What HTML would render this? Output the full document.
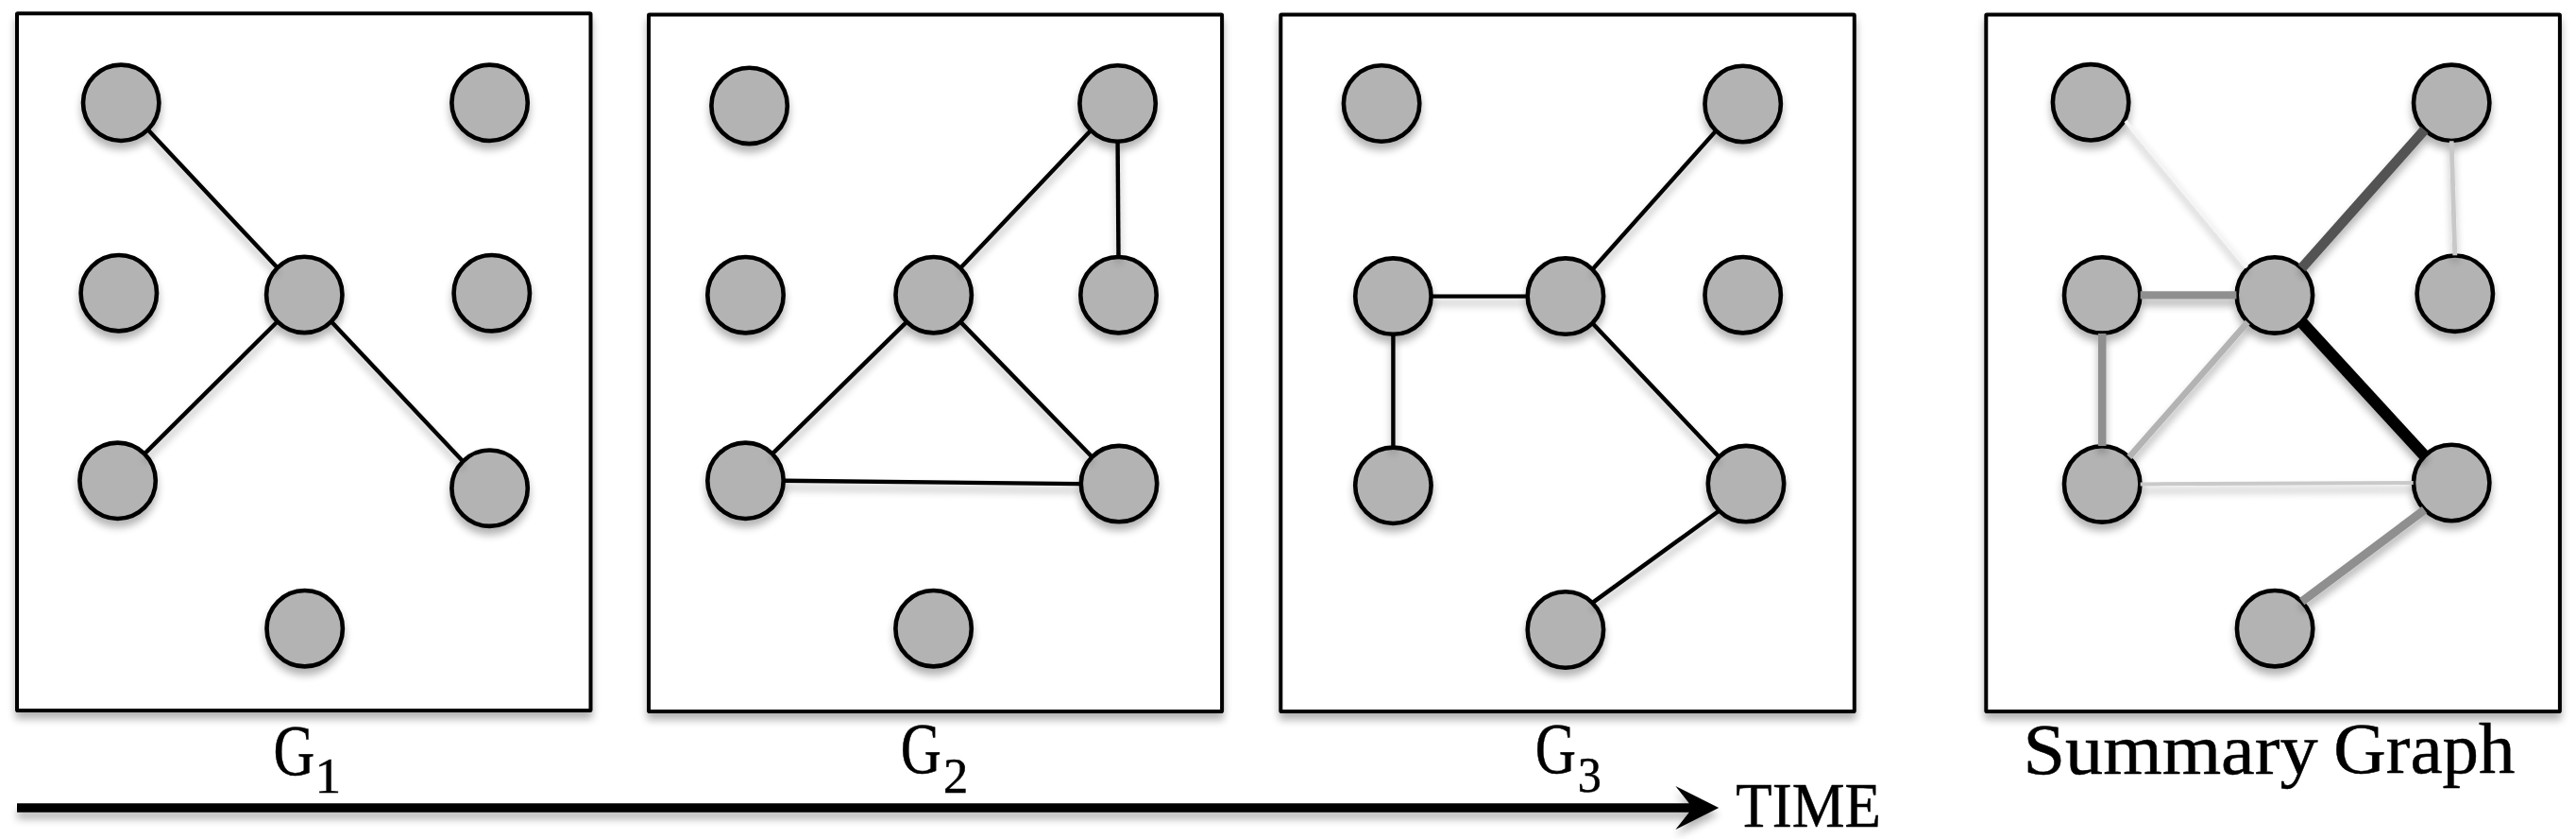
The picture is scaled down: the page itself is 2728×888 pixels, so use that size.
<!DOCTYPE html>
<html><head><meta charset="utf-8"><style>
html,body{margin:0;padding:0;background:#fff;}
svg{display:block;}
text{font-family:"Liberation Serif",serif;fill:#000;stroke:#000;stroke-width:0.5px;}
</style></head><body>
<svg width="2728" height="888" viewBox="0 0 2728 888">
<defs>
<filter id="sh" x="0" y="0" width="2728" height="888" filterUnits="userSpaceOnUse">
<feGaussianBlur in="SourceAlpha" stdDeviation="4"/>
<feOffset dx="0" dy="7" result="o"/>
<feComponentTransfer><feFuncA type="linear" slope="0.3"/></feComponentTransfer>
<feMerge><feMergeNode/><feMergeNode in="SourceGraphic"/></feMerge>
</filter>
</defs>
<rect width="2728" height="888" fill="#fff"/>
<rect x="18" y="14.2" width="607.5" height="737.8" rx="0.8" fill="#fff" stroke="#000" stroke-width="4" filter="url(#sh)"/>
<rect x="687" y="15.5" width="607.1" height="737.5" rx="0.8" fill="#fff" stroke="#000" stroke-width="4" filter="url(#sh)"/>
<rect x="1356.3" y="15.6" width="607.5" height="737.5" rx="0.8" fill="#fff" stroke="#000" stroke-width="4" filter="url(#sh)"/>
<rect x="2103.3" y="15.5" width="607.6" height="737.5" rx="0.8" fill="#fff" stroke="#000" stroke-width="4" filter="url(#sh)"/>
<circle cx="128.2" cy="108.8" r="40.2" fill="#b3b3b3" stroke="#000" stroke-width="4.6" filter="url(#sh)"/>
<circle cx="518.6" cy="108.8" r="40.2" fill="#b3b3b3" stroke="#000" stroke-width="4.6" filter="url(#sh)"/>
<circle cx="125.8" cy="310.2" r="40.2" fill="#b3b3b3" stroke="#000" stroke-width="4.6" filter="url(#sh)"/>
<circle cx="322.3" cy="311.9" r="40.2" fill="#b3b3b3" stroke="#000" stroke-width="4.6" filter="url(#sh)"/>
<circle cx="520.8" cy="310.2" r="40.2" fill="#b3b3b3" stroke="#000" stroke-width="4.6" filter="url(#sh)"/>
<circle cx="124.6" cy="508.8" r="40.2" fill="#b3b3b3" stroke="#000" stroke-width="4.6" filter="url(#sh)"/>
<circle cx="518.6" cy="516.7" r="40.2" fill="#b3b3b3" stroke="#000" stroke-width="4.6" filter="url(#sh)"/>
<circle cx="322.7" cy="665.2" r="40.2" fill="#b3b3b3" stroke="#000" stroke-width="4.6" filter="url(#sh)"/>
<line x1="156.84" y1="137.44" x2="293.66" y2="283.26" stroke="#000" stroke-width="4.4" filter="url(#sh)"/>
<line x1="293.66" y1="340.54" x2="153.24" y2="480.16" stroke="#000" stroke-width="4.4" filter="url(#sh)"/>
<line x1="350.94" y1="340.54" x2="489.96" y2="488.06" stroke="#000" stroke-width="4.4" filter="url(#sh)"/>
<circle cx="793.6" cy="111.9" r="40.2" fill="#b3b3b3" stroke="#000" stroke-width="4.6" filter="url(#sh)"/>
<circle cx="1183.6" cy="109.5" r="40.2" fill="#b3b3b3" stroke="#000" stroke-width="4.6" filter="url(#sh)"/>
<circle cx="789.5" cy="312.2" r="40.2" fill="#b3b3b3" stroke="#000" stroke-width="4.6" filter="url(#sh)"/>
<circle cx="988.7" cy="312.2" r="40.2" fill="#b3b3b3" stroke="#000" stroke-width="4.6" filter="url(#sh)"/>
<circle cx="1184.5" cy="312.2" r="40.2" fill="#b3b3b3" stroke="#000" stroke-width="4.6" filter="url(#sh)"/>
<circle cx="789.5" cy="508.8" r="40.2" fill="#b3b3b3" stroke="#000" stroke-width="4.6" filter="url(#sh)"/>
<circle cx="1185" cy="512.1" r="40.2" fill="#b3b3b3" stroke="#000" stroke-width="4.6" filter="url(#sh)"/>
<circle cx="988.6" cy="665.2" r="40.2" fill="#b3b3b3" stroke="#000" stroke-width="4.6" filter="url(#sh)"/>
<line x1="1154.96" y1="138.14" x2="1017.34" y2="283.56" stroke="#000" stroke-width="4.4" filter="url(#sh)"/>
<line x1="1183.6" y1="150" x2="1184.5" y2="271.7" stroke="#000" stroke-width="4.4" filter="url(#sh)"/>
<line x1="960.06" y1="340.84" x2="818.14" y2="480.16" stroke="#000" stroke-width="4.4" filter="url(#sh)"/>
<line x1="1017.34" y1="340.84" x2="1156.36" y2="483.46" stroke="#000" stroke-width="4.4" filter="url(#sh)"/>
<line x1="830" y1="508.8" x2="1144.5" y2="512.1" stroke="#000" stroke-width="4.4" filter="url(#sh)"/>
<circle cx="1463.1" cy="109.5" r="40.2" fill="#b3b3b3" stroke="#000" stroke-width="4.6" filter="url(#sh)"/>
<circle cx="1845.7" cy="110" r="40.2" fill="#b3b3b3" stroke="#000" stroke-width="4.6" filter="url(#sh)"/>
<circle cx="1475.4" cy="313.6" r="40.2" fill="#b3b3b3" stroke="#000" stroke-width="4.6" filter="url(#sh)"/>
<circle cx="1657.9" cy="313.6" r="40.2" fill="#b3b3b3" stroke="#000" stroke-width="4.6" filter="url(#sh)"/>
<circle cx="1845.7" cy="312.2" r="40.2" fill="#b3b3b3" stroke="#000" stroke-width="4.6" filter="url(#sh)"/>
<circle cx="1475.4" cy="513.8" r="40.2" fill="#b3b3b3" stroke="#000" stroke-width="4.6" filter="url(#sh)"/>
<circle cx="1849" cy="512.1" r="40.2" fill="#b3b3b3" stroke="#000" stroke-width="4.6" filter="url(#sh)"/>
<circle cx="1657.9" cy="666.5" r="40.2" fill="#b3b3b3" stroke="#000" stroke-width="4.6" filter="url(#sh)"/>
<line x1="1817.06" y1="138.64" x2="1686.54" y2="284.96" stroke="#000" stroke-width="4.4" filter="url(#sh)"/>
<line x1="1515.9" y1="313.6" x2="1617.4" y2="313.6" stroke="#000" stroke-width="4.4" filter="url(#sh)"/>
<line x1="1475.4" y1="354.1" x2="1475.4" y2="473.3" stroke="#000" stroke-width="4.4" filter="url(#sh)"/>
<line x1="1686.54" y1="342.24" x2="1820.36" y2="483.46" stroke="#000" stroke-width="4.4" filter="url(#sh)"/>
<line x1="1820.36" y1="540.74" x2="1686.54" y2="637.86" stroke="#000" stroke-width="4.4" filter="url(#sh)"/>
<circle cx="2214.1" cy="108.3" r="40.2" fill="#b3b3b3" stroke="#000" stroke-width="4.6" filter="url(#sh)"/>
<circle cx="2596.2" cy="108.8" r="40.2" fill="#b3b3b3" stroke="#000" stroke-width="4.6" filter="url(#sh)"/>
<circle cx="2226.2" cy="312.4" r="40.2" fill="#b3b3b3" stroke="#000" stroke-width="4.6" filter="url(#sh)"/>
<circle cx="2408.9" cy="312.4" r="40.2" fill="#b3b3b3" stroke="#000" stroke-width="4.6" filter="url(#sh)"/>
<circle cx="2599.8" cy="310.7" r="40.2" fill="#b3b3b3" stroke="#000" stroke-width="4.6" filter="url(#sh)"/>
<circle cx="2226.2" cy="512.4" r="40.2" fill="#b3b3b3" stroke="#000" stroke-width="4.6" filter="url(#sh)"/>
<circle cx="2596.2" cy="511" r="40.2" fill="#b3b3b3" stroke="#000" stroke-width="4.6" filter="url(#sh)"/>
<circle cx="2409.1" cy="665.2" r="40.2" fill="#b3b3b3" stroke="#000" stroke-width="4.6" filter="url(#sh)"/>
<line x1="2567.56" y1="137.44" x2="2437.54" y2="283.76" stroke="#525252" stroke-width="10.6" filter="url(#sh)"/>
<line x1="2596.2" y1="149.3" x2="2599.8" y2="270.2" stroke="#c8c8c8" stroke-width="4.8" filter="url(#sh)"/>
<line x1="2266.7" y1="312.4" x2="2368.4" y2="312.4" stroke="#8f8f8f" stroke-width="8.3" filter="url(#sh)"/>
<line x1="2226.2" y1="352.9" x2="2226.2" y2="471.9" stroke="#8f8f8f" stroke-width="8.5" filter="url(#sh)"/>
<line x1="2380.26" y1="341.04" x2="2254.84" y2="483.76" stroke="#b3b3b3" stroke-width="6.6" filter="url(#sh)"/>
<line x1="2437.54" y1="341.04" x2="2567.56" y2="482.36" stroke="#000" stroke-width="12.5" filter="url(#sh)"/>
<line x1="2266.7" y1="512.4" x2="2555.7" y2="511" stroke="#c9c9c9" stroke-width="4" filter="url(#sh)"/>
<line x1="2567.56" y1="539.64" x2="2437.74" y2="636.56" stroke="#8f8f8f" stroke-width="9" filter="url(#sh)"/>
<line x1="2251" y1="128" x2="2379.5" y2="283" stroke="#f5f5f5" stroke-width="3.8" filter="url(#sh)"/>
<polygon points="18,850.3 1788.8,850.3 1774.4,832 1820.2,855.1 1774.4,878.1 1788.8,859.8 18,859.8" fill="#000" filter="url(#sh)"/>
<text transform="translate(289.58,819.5) scale(0.7976,1)" font-size="76">G</text>
<text transform="translate(333.51,838.6) scale(1.0659,1)" font-size="52">1</text>
<text transform="translate(953.71,818.4) scale(0.7854,1)" font-size="76">G</text>
<text transform="translate(998.9,838.8) scale(1.0096,1)" font-size="52">2</text>
<text transform="translate(1625.81,818.4) scale(0.7874,1)" font-size="76">G</text>
<text transform="translate(1670.79,838.4) scale(0.9662,1)" font-size="52">3</text>
<text transform="translate(2142.48,818.7) scale(1.0561,1)" font-size="76">Summary</text>
<text transform="translate(2471.33,818.4) scale(1.0113,1)" font-size="76">Graph</text>
<text transform="translate(1838.34,875) scale(0.9165,1)" font-size="68.6">TIME</text>
</svg>
</body></html>
